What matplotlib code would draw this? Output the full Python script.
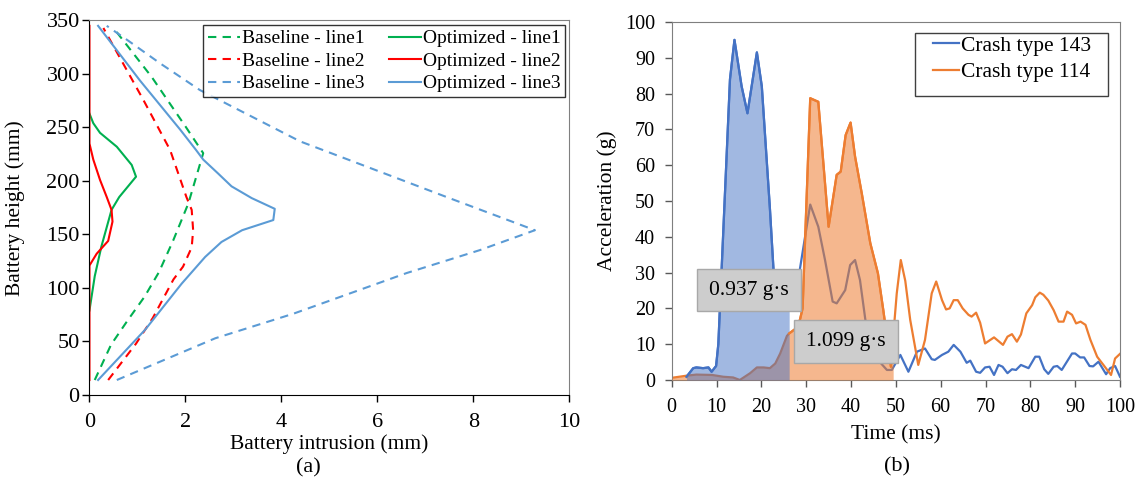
import numpy as np
import matplotlib
matplotlib.use("Agg")
import matplotlib.pyplot as plt
from matplotlib.patches import Rectangle

plt.rcParams['font.family'] = ['Liberation Serif', 'DejaVu Serif']

# --- (a) battery intrusion profiles: x = intrusion (mm), y = height (mm) ---
base1_x = [0.11, 0.45, 0.80, 1.15, 1.45, 1.75, 2.06, 2.37, 2.00, 1.30, 0.50]
base1_y = [14, 47, 70, 92, 115, 145, 179, 226, 251, 297, 343]
base2_x = [0.39, 0.97, 1.32, 1.75, 1.95, 2.13, 2.16, 2.13, 2.02, 1.68, 1.12, 0.29]
base2_y = [14, 48, 72, 108, 120, 138, 154, 173, 185, 229, 276, 343]
base3_x = [0.57, 2.62, 4.25, 6.61, 8.14, 9.28, 7.44, 4.39, 2.30, 1.47, 0.78, 0.36]
base3_y = [14, 53, 76, 114, 135.5, 154, 185, 237, 285, 310, 332, 345]

opt1_x = [0.0, 0.11, 0.25, 0.46, 0.62, 0.97, 0.88, 0.57, 0.22, 0.08, 0.0]
opt1_y = [79, 111, 139, 173, 185, 204, 215, 232, 245, 254, 263]
opt2_x = [0.0, 0.0, 0.15, 0.39, 0.48, 0.46, 0.36, 0.22, 0.08, 0.0, 0.0]
opt2_y = [14, 121, 132, 144, 162, 173, 185, 201, 220, 235, 345]
opt3_x = [0.18, 1.16, 1.92, 2.41, 2.75, 3.18, 3.83, 3.86, 3.38, 2.96, 2.68,
          2.37, 2.22, 1.89, 1.05, 0.18]
opt3_y = [14, 61, 104, 129, 143, 154, 163.5, 174, 184, 195, 207,
          220, 229, 248, 294, 345]

# --- (b) crash pulses: time (ms), acceleration (g) ---
t_143 = [3.3, 4.8, 5.5, 7.0, 8.2, 8.9, 9.9, 10.4, 13.0, 14.0, 15.6, 16.9, 19.0,
         20.1, 21.9, 22.7, 24.2, 25.0, 26.2, 28.6, 30.9, 32.7, 34.2, 35.9, 36.8,
         38.7, 39.8, 40.9, 42.0, 43.2, 46.0, 48.0, 49.1, 51.0, 52.8, 54.7, 56.5,
         58.0, 58.7, 60.3, 61.7, 62.9, 64.4, 65.8, 66.6, 67.9, 68.8, 69.9, 70.9,
         71.9, 72.9, 73.8, 74.9, 75.9, 76.8, 77.9, 79.6, 81.1, 82.0, 83.1, 84.0,
         85.2, 86.0, 87.0, 89.3, 90.0, 91.1, 92.0, 93.2, 94.0, 95.2, 96.9, 97.8,
         98.9, 100.0]
a_143 = [0.9, 3.3, 3.5, 3.3, 3.5, 2.3, 3.9, 10.0, 84.0, 95.0, 82.0, 74.5, 91.5,
         82.0, 48.0, 31.0, 20.5, 19.5, 21.0, 31.0, 49.0, 42.8, 33.5, 21.9, 21.4,
         25.1, 32.1, 33.5, 27.9, 16.8, 5.6, 2.8, 2.8, 7.0, 2.3, 7.9, 8.8,
         5.8, 5.6, 7.0, 7.9, 9.8, 7.9, 4.8, 5.4, 2.3, 2.0, 3.5, 3.7,
         1.4, 4.2, 3.7, 1.9, 3.0, 2.8, 4.2, 3.3, 6.5, 6.5, 3.0, 1.7,
         3.7, 3.9, 2.8, 7.4, 7.4, 6.3, 6.3, 3.9, 3.8, 5.1, 1.6, 3.3,
         3.9, 0.9]
t_114 = [0.0, 3.3, 5.5, 9.0, 11.5, 13.7, 15.2, 17.5, 19.0, 20.5, 21.9, 23.1,
         24.2, 25.7, 26.2, 27.5, 28.6, 29.2, 30.9, 32.7, 35.0, 36.8, 37.7, 38.8,
         39.9, 40.9, 42.4, 44.3, 46.0, 47.2, 48.4, 48.9, 49.4, 50.2, 51.1, 52.1,
         53.2, 55.0, 56.5, 58.0, 59.0, 60.3, 61.2, 62.0, 62.9, 63.8, 64.9, 66.2,
         66.9, 67.9, 68.8, 69.9, 71.9, 73.9, 74.9, 75.9, 77.0, 77.9, 79.1, 80.4,
         81.1, 82.1, 82.9, 84.0, 85.2, 86.3, 87.4, 88.2, 89.3, 90.2, 91.2, 92.3,
         93.4, 94.9, 96.3, 98.0, 98.9, 100.0]
a_114 = [0.6, 1.2, 1.5, 1.4, 0.9, 0.7, 0.0, 1.9, 3.5, 3.5, 3.3, 4.6,
         7.4, 12.3, 13.0, 14.2, 16.8, 20.0, 78.7, 77.7, 42.8, 57.3, 58.2, 68.4,
         71.9, 62.4, 52.1, 38.2, 29.8, 19.5, 8.4, 3.7, 12.0, 24.2, 33.5, 27.7,
         16.8, 4.2, 11.2, 24.2, 27.5, 22.3, 19.7, 20.0, 22.3, 22.3, 20.0, 18.2,
         17.7, 18.8, 16.0, 10.2, 11.9, 9.8, 12.1, 12.8, 10.7, 12.7, 18.6, 20.9,
         23.1, 24.4, 23.8, 22.2, 19.5, 16.3, 16.3, 19.1, 18.2, 15.8, 16.3, 15.4,
         11.2, 6.5, 4.2, 1.4, 6.0, 7.3]
fill_end_143 = 26.2
fill_end_114 = 49.4
labels_impulse = ['0.937 g·s', '1.099 g·s']

fig = plt.figure(figsize=(11.41, 4.83), dpi=100)

# ---------------- (a) ----------------
ax1 = fig.add_axes([0.0784, 0.1822, 0.4207, 0.7754])
ls = (0, (4, 3))
ax1.plot(base1_x, base1_y, color='#00B050', ls=ls, lw=1.5, label='Baseline - line1')
ax1.plot(base2_x, base2_y, color='#FF0000', ls=ls, lw=1.5, label='Baseline - line2')
ax1.plot(base3_x, base3_y, color='#5B9BD5', ls=ls, lw=1.5, label='Baseline - line3')
ax1.plot(opt1_x, opt1_y, color='#00B050', lw=1.5, label='Optimized - line1')
ax1.plot(opt2_x, opt2_y, color='#FF0000', lw=1.5, label='Optimized - line2')
ax1.plot(opt3_x, opt3_y, color='#5B9BD5', lw=1.5, label='Optimized - line3')
ax1.set_xlim(0, 10)
ax1.set_ylim(0, 350)
ax1.set_xticks(np.arange(0, 11, 2))
ax1.set_yticks(np.arange(0, 351, 50))
ax1.tick_params(labelsize=16, length=5, width=1)
ax1.tick_params(axis='x', pad=8)
ax1.tick_params(axis='y', pad=2)
ax1.set_xlabel('Battery intrusion (mm)', fontsize=15.5, labelpad=1.5)
ax1.set_ylabel('Battery height (mm)', fontsize=15.5)
ax1.yaxis.set_label_coords(-0.134, 0.5)
for s in ['top', 'right']:
    ax1.spines[s].set_color('#808080')
leg1 = ax1.legend(ncol=2, loc='upper right', bbox_to_anchor=(0.991, 0.988),
                  borderaxespad=0, fontsize=14, frameon=True, fancybox=False,
                  edgecolor='black', handlelength=1.65, handletextpad=0.1,
                  columnspacing=1.25, labelspacing=0.25, borderpad=0.25)
leg1.get_frame().set_linewidth(1.0)

# ---------------- (b) ----------------
ax2 = fig.add_axes([0.5887, 0.2133, 0.3929, 0.7412])
t143 = np.array(t_143)
a143 = np.array(a_143)
t114 = np.array(t_114)
a114 = np.array(a_114)
blue = '#4472C4'
orange = '#ED7D31'
ax2.plot(t143, a143, color=blue, lw=1.6, zorder=1, label='Crash type 143')
ax2.plot(t114, a114, color=orange, lw=1.6, zorder=2, label='Crash type 114')
ax2.fill_between(t114, 0, a114, where=t114 <= fill_end_114, color=orange,
                 alpha=0.55, lw=0, zorder=3)
ax2.fill_between(t143, 0, a143, where=t143 <= fill_end_143, color=blue,
                 alpha=0.5, lw=0, zorder=4)
m1 = t143 <= fill_end_143
ax2.plot(t143[m1], a143[m1], color=blue, lw=1.6, zorder=5)
m2 = (t114 >= fill_end_143) & (t114 <= fill_end_114)
ax2.plot(t114[m2], a114[m2], color=orange, lw=1.6, zorder=5)

box = dict(boxstyle='square,pad=0.55', fc='#CDCDCD', ec='#A8A8A8', lw=1)
ax2.text(17.2, 25.1, labels_impulse[0], fontsize=15.5, ha='center', va='center',
         bbox=box, zorder=6)
ax2.text(38.9, 10.7, labels_impulse[1], fontsize=15.5, ha='center', va='center',
         bbox=box, zorder=6)

ax2.set_xlim(0, 100)
ax2.set_ylim(0, 100)
ax2.set_xticks(np.arange(0, 101, 10))
ax2.set_yticks(np.arange(0, 101, 10))
ax2.tick_params(labelsize=14.5, length=5, width=1, color='#595959')
ax2.tick_params(axis='x', pad=8)
ax2.tick_params(axis='y', pad=7)
for s in ax2.spines.values():
    s.set_color('#7F7F7F')
ax2.set_xlabel('Time (ms)', fontsize=15.5, labelpad=6)
ax2.set_ylabel('Acceleration (g)', fontsize=15.5)
ax2.yaxis.set_label_coords(-0.122, 0.5)
leg2 = ax2.legend(loc='upper right', bbox_to_anchor=(0.935, 0.962),
                  borderaxespad=0, fontsize=15.5, frameon=False,
                  handlelength=1.2, handletextpad=0.1,
                  labelspacing=0.3, borderpad=0)
ax2.add_patch(Rectangle((0.543, 0.794), 0.431, 0.174, transform=ax2.transAxes,
                        fill=False, ec='#404040', lw=1, zorder=7))

fig.text(308 / 1141, 1 - 468 / 483, '(a)', fontsize=16, ha='center', va='center')
fig.text(897 / 1141, 1 - 467 / 483, '(b)', fontsize=16, ha='center', va='center')

fig.savefig('out.png', dpi=100)
